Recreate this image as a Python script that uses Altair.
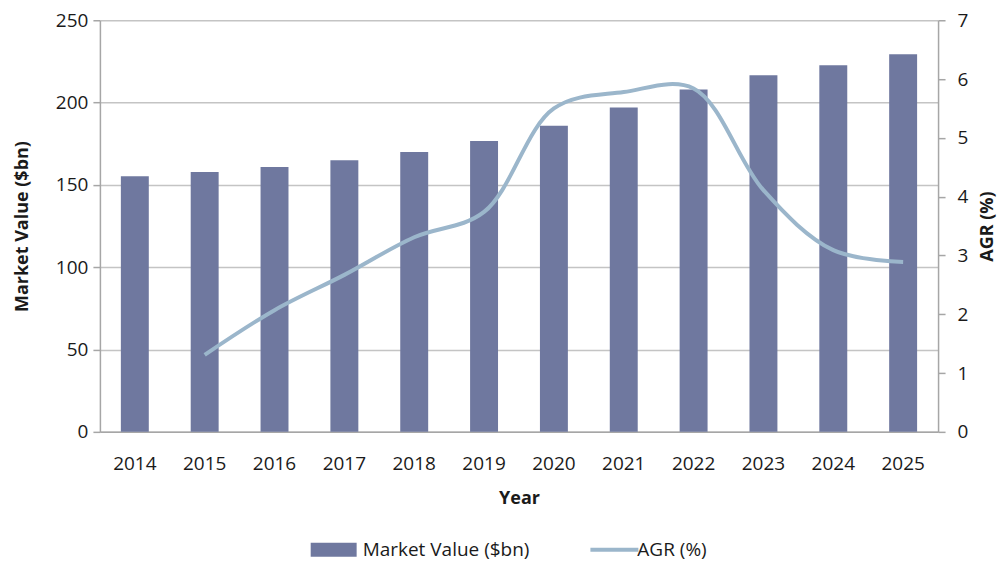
import altair as alt
import pandas as pd

years = ["2014", "2015", "2016", "2017", "2018", "2019", "2020", "2021", "2022", "2023", "2024", "2025"]
market_value = [155.3, 157.8, 160.8, 165.0, 170.0, 176.6, 186.0, 197.0, 208.0, 216.6, 222.7, 229.4]
agr = [None, 1.31, 2.07, 2.67, 3.31, 3.74, 5.50, 5.78, 5.84, 4.11, 3.09, 2.89]

df = pd.DataFrame({"Year": years, "Market": market_value, "AGR": agr})

FONT = "Open Sans"
BAR_COLOR = "#6f789f"
LINE_COLOR = "#9bb6cb"

base = alt.Chart(df)

x_enc = alt.X(
    "Year:N",
    sort=years,
    scale=alt.Scale(paddingInner=0.6, paddingOuter=0.3),
    axis=alt.Axis(title="Year", labelAngle=0, ticks=False, labelPadding=23,
                  titlePadding=16, domainColor="#a6a6a6", domainWidth=1.5),
)

bars = base.mark_bar().transform_calculate(s="'Market Value ($bn)'").encode(
    x=x_enc,
    y=alt.Y(
        "Market:Q",
        scale=alt.Scale(domain=[0, 250]),
        axis=alt.Axis(title="Market Value ($bn)", values=[0, 50, 100, 150, 200, 250],
                      grid=True, gridColor="#c4c4c4", gridWidth=1.5, tickSize=7,
                      tickColor="#a6a6a6", tickWidth=1.5, domainColor="#a6a6a6", domainWidth=1.5,
                      labelPadding=5, titlePadding=24),
    ),
    color=alt.Color(
        "s:N",
        scale=alt.Scale(domain=["Market Value ($bn)"], range=[BAR_COLOR]),
        legend=alt.Legend(title=None, orient="none", legendX=211, legendY=507,
                          symbolType="M-1,-0.3H1V0.3H-1Z", symbolSize=2116,
                          symbolStrokeWidth=0, symbolOpacity=1, labelOffset=6,
                          labelLimit=400),
    ),
)

line = base.mark_line(interpolate="catmull-rom", strokeWidth=4).transform_filter(
    "isValid(datum.AGR)"
).transform_calculate(s2="'AGR (%)'").encode(
    x=alt.X("Year:N", sort=years),
    y=alt.Y(
        "AGR:Q",
        scale=alt.Scale(domain=[0, 7]),
        axis=alt.Axis(title="AGR (%)", orient="right", values=[0, 1, 2, 3, 4, 5, 6, 7],
                      grid=False, tickSize=7, tickColor="#a6a6a6", tickWidth=1.5,
                      domainColor="#a6a6a6", domainWidth=1.5, labelPadding=12,
                      titleAngle=270, titleX=49, titleY=206, titleAlign="center",
                      titleBaseline="middle"),
    ),
    stroke=alt.Stroke(
        "s2:N",
        scale=alt.Scale(domain=["AGR (%)"], range=[LINE_COLOR]),
        legend=alt.Legend(title=None, orient="none", legendX=489, legendY=504,
                          symbolType="stroke", symbolSize=2304, symbolStrokeWidth=4,
                          labelOffset=alt.ExprRef(expr="-3"), labelLimit=400),
    ),
)

chart = alt.layer(bars, line).resolve_scale(y="independent").properties(
    width=839,
    height=412,
    autosize="none",
    padding={"left": 92, "top": 12, "right": 60, "bottom": 130},
).configure_view(stroke=None).configure_axis(
    labelFont=FONT, labelFontSize=19, labelColor="#1a1a1a",
    titleFont=FONT, titleFontSize=18, titleFontWeight="bold", titleColor="#1a1a1a",
).configure_legend(
    labelFont=FONT, labelFontSize=19, labelColor="#1a1a1a",
)

chart.save("out.html", embed_options={"renderer": "svg", "actions": False})
